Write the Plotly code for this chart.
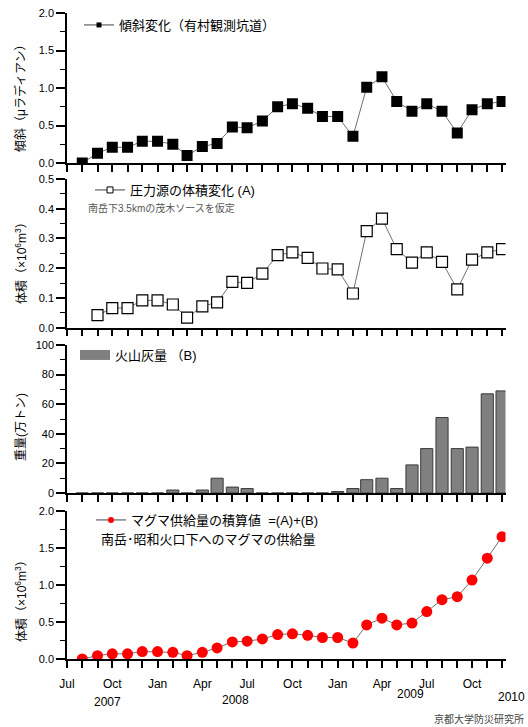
import plotly.graph_objects as go
import pandas as pd

# ---------------- data ----------------
months = ["2007-08", "2007-09", "2007-10", "2007-11", "2007-12",
          "2008-01", "2008-02", "2008-03", "2008-04", "2008-05", "2008-06",
          "2008-07", "2008-08", "2008-09", "2008-10", "2008-11", "2008-12",
          "2009-01", "2009-02", "2009-03", "2009-04", "2009-05", "2009-06",
          "2009-07", "2009-08", "2009-09", "2009-10", "2009-11", "2009-12"]

# tilt change (micro radian), Aug 2007 - Dec 2009
tilt = [0.00, 0.13, 0.21, 0.21, 0.29, 0.29, 0.25, 0.10, 0.22, 0.26, 0.48,
        0.47, 0.56, 0.75, 0.79, 0.73, 0.62, 0.62, 0.355, 1.01, 1.15, 0.82,
        0.69, 0.79, 0.69, 0.40, 0.71, 0.79, 0.82]

# volume change of pressure source (A) (x10^6 m^3), Sep 2007 - Dec 2009
vol_months = months[1:]
vol_a = [0.042, 0.066, 0.066, 0.092, 0.092, 0.078, 0.034, 0.072, 0.085, 0.154,
         0.151, 0.182, 0.244, 0.253, 0.235, 0.199, 0.196, 0.115, 0.325, 0.367,
         0.264, 0.219, 0.253, 0.221, 0.129, 0.229, 0.253, 0.264]

# volcanic ash (B) (10^4 ton), Aug 2007 - Dec 2009
ash = [0, 0, 0, 0, 0, 0, 2, 0, 2, 10, 4, 3, 0, 0, 0, 0, 0,
       1, 3, 9, 10, 3, 19, 30, 51, 30, 31, 67, 69]

# cumulative magma supply (A)+(B) (x10^6 m^3)
magma = [0.00, 0.045, 0.07, 0.07, 0.10, 0.10, 0.09, 0.045, 0.09, 0.15, 0.23,
         0.24, 0.27, 0.33, 0.34, 0.32, 0.29, 0.29, 0.215, 0.46, 0.55, 0.46,
         0.485, 0.64, 0.80, 0.84, 1.065, 1.36, 1.65]

tick_label_map = {"2007-07": "Jul", "2007-10": "Oct", "2008-01": "Jan",
                  "2008-04": "Apr", "2008-07": "Jul", "2008-10": "Oct",
                  "2009-01": "Jan", "2009-04": "Apr", "2009-07": "Jul",
                  "2009-10": "Oct"}
years = ["2007", "2008", "2009", "2010"]

# ---------------- helpers ----------------
W, H = 528, 727
FONT = "Liberation Sans, Noto Sans CJK JP, sans-serif"

def px_x(p):
    return p / W

def px_y(p):
    return 1 - p / H

tick_months = pd.date_range("2007-07-01", "2009-12-01", freq="MS")
tickvals = [d.strftime("%Y-%m-%d") for d in tick_months]
ticktext = [tick_label_map.get(d.strftime("%Y-%m"), " ") for d in tick_months]

xd = lambda m: [s + "-01" for s in m]

fig = go.Figure()

LINE_COL = "#707070"

# panel 1: tilt
fig.add_trace(go.Scatter(x=xd(months), y=tilt, mode="lines+markers",
                         line=dict(color=LINE_COL, width=1),
                         marker=dict(symbol="square", size=11, color="black"),
                         showlegend=False, xaxis="x", yaxis="y"))
# panel 2: volume A
fig.add_trace(go.Scatter(x=xd(vol_months), y=vol_a, mode="lines+markers",
                         line=dict(color=LINE_COL, width=1),
                         marker=dict(symbol="square", size=11, color="white",
                                     line=dict(color="black", width=1.2)),
                         showlegend=False, xaxis="x2", yaxis="y2"))
# panel 3: ash
fig.add_trace(go.Bar(x=xd(months), y=ash,
                     marker=dict(color="#808080", line=dict(color="#3a3a3a", width=1)),
                     showlegend=False, xaxis="x3", yaxis="y3"))
# panel 4: magma
fig.add_trace(go.Scatter(x=xd(months), y=magma, mode="lines+markers",
                         line=dict(color=LINE_COL, width=1),
                         marker=dict(symbol="circle", size=11, color="#ff0000"),
                         showlegend=False, xaxis="x4", yaxis="y4"))

# legend-only entries (small symbols)
fig.add_trace(go.Scatter(x=[None], y=[None], mode="lines+markers",
                         name="傾斜変化（有村観測坑道）",
                         line=dict(color="#404040", width=1),
                         marker=dict(symbol="square", size=5, color="black"),
                         legend="legend", xaxis="x", yaxis="y"))
fig.add_trace(go.Scatter(x=[None], y=[None], mode="lines+markers",
                         name="圧力源の体積変化 (A)",
                         line=dict(color="#404040", width=1),
                         marker=dict(symbol="square", size=6, color="white",
                                     line=dict(color="black", width=1)),
                         legend="legend2", xaxis="x2", yaxis="y2"))
fig.add_trace(go.Scatter(x=[None], y=[None], mode="lines",
                         name="火山灰量 （B)",
                         line=dict(color="#808080", width=10),
                         legend="legend3", xaxis="x3", yaxis="y3"))
fig.add_trace(go.Scatter(x=[None], y=[None], mode="lines+markers",
                         name="マグマ供給量の積算値  =(A)+(B)",
                         line=dict(color="#404040", width=1),
                         marker=dict(symbol="circle", size=6, color="#ff0000"),
                         legend="legend4", xaxis="x4", yaxis="y4"))

# ---------------- axes ----------------
XDOM = [px_x(67), px_x(505.5)]
XRANGE = ["2007-07-01", "2009-12-08"]
panels = [  # (top px, bottom px)
    (13, 163), (179, 327.7), (345, 493), (510.7, 659)]
yspecs = [
    dict(range=[0, 2], dtick=0.5, minor=0.25, fmt=".1f"),
    dict(range=[0, 0.5], dtick=0.1, minor=0.05, fmt=".1f"),
    dict(range=[0, 100], dtick=20, minor=10, fmt="d"),
    dict(range=[0, 2], dtick=0.5, minor=0.25, fmt=".1f"),
]

layout = dict(width=W, height=H, autosize=False,
              margin=dict(l=0, r=0, t=0, b=0),
              paper_bgcolor="white", plot_bgcolor="white",
              font=dict(family=FONT, color="black", size=11),
              bargap=0.12)

for i, ((top, bot), ys) in enumerate(zip(panels, yspecs)):
    sfx = "" if i == 0 else str(i + 1)
    layout["xaxis" + sfx] = dict(
        type="date", domain=XDOM, range=XRANGE, anchor="y" + sfx,
        showline=True, linecolor="black", linewidth=1.5,
        ticks="outside", ticklen=7, tickwidth=1.5, tickcolor="black",
        tickmode="array", tickvals=tickvals, ticktext=ticktext,
        showticklabels=(i == 3), showgrid=False, zeroline=False,
        tickfont=dict(size=12, family=FONT), ticklabelstandoff=6,
        automargin=False)
    layout["yaxis" + sfx] = dict(
        domain=[px_y(bot), px_y(top)], range=ys["range"], anchor="x" + sfx,
        showline=True, linecolor="black", linewidth=1.5,
        ticks="outside", ticklen=9, tickwidth=1.5, tickcolor="black",
        dtick=ys["dtick"], tick0=0, tickformat=ys["fmt"],
        minor=dict(dtick=ys["minor"], ticks="outside", ticklen=5,
                   tickwidth=1.2, tickcolor="black", showgrid=False),
        showgrid=False, zeroline=False, tickfont=dict(size=11, family=FONT),
        automargin=False)

legend_pos = [(79, 25), (90, 190), (75, 355), (91, 520)]
for i, (lx, ly) in enumerate(legend_pos):
    key = "legend" if i == 0 else "legend" + str(i + 1)
    layout[key] = dict(x=px_x(lx), y=px_y(ly), xanchor="left", yanchor="middle",
                       bgcolor="rgba(0,0,0,0)", borderwidth=0,
                       font=dict(size=13, family=FONT, color="black"),
                       itemwidth=30)

fig.update_layout(**layout)

annos = []
# y axis titles
ytitles = [("傾斜（μラディアン）", 95), ("体積（×10<sup>6</sup>m<sup>3</sup>）", 260),
           ("重量(万トン)", 427), ("体積（×10<sup>6</sup>m<sup>3</sup>）", 598)]
for t, yc in ytitles:
    annos.append(dict(text=t, x=px_x(21), y=px_y(yc), xref="paper", yref="paper",
                      textangle=-90, showarrow=False, xanchor="center",
                      yanchor="middle", font=dict(size=12, family=FONT)))
annos.append(dict(text="南岳下3.5kmの茂木ソースを仮定", x=px_x(86), y=px_y(208),
                  xref="paper", yref="paper", showarrow=False, xanchor="left",
                  yanchor="middle", font=dict(size=10, family=FONT, color="#555555")))
annos.append(dict(text="南岳･昭和火口下へのマグマの供給量", x=px_x(99), y=px_y(539),
                  xref="paper", yref="paper", showarrow=False, xanchor="left",
                  yanchor="middle", font=dict(size=13, family=FONT)))
year_pos = [(107, 702, "center"), (235, 700, "center"), (410, 694, "center"),
            (527, 697, "right")]
for yr, (yx, yy, anc) in zip(years, year_pos):
    annos.append(dict(text=yr, x=px_x(yx), y=px_y(yy), xref="paper", yref="paper",
                      showarrow=False, xanchor=anc, yanchor="middle",
                      font=dict(size=12, family=FONT)))
annos.append(dict(text="京都大学防災研究所", x=px_x(526), y=px_y(719),
                  xref="paper", yref="paper", showarrow=False, xanchor="right",
                  yanchor="middle", font=dict(size=10, family=FONT, color="#444444")))
fig.update_layout(annotations=annos)

fig.write_html("out.html", config={"displayModeBar": False},
               post_script="document.body.style.margin='0px';document.body.style.overflow='hidden';")
